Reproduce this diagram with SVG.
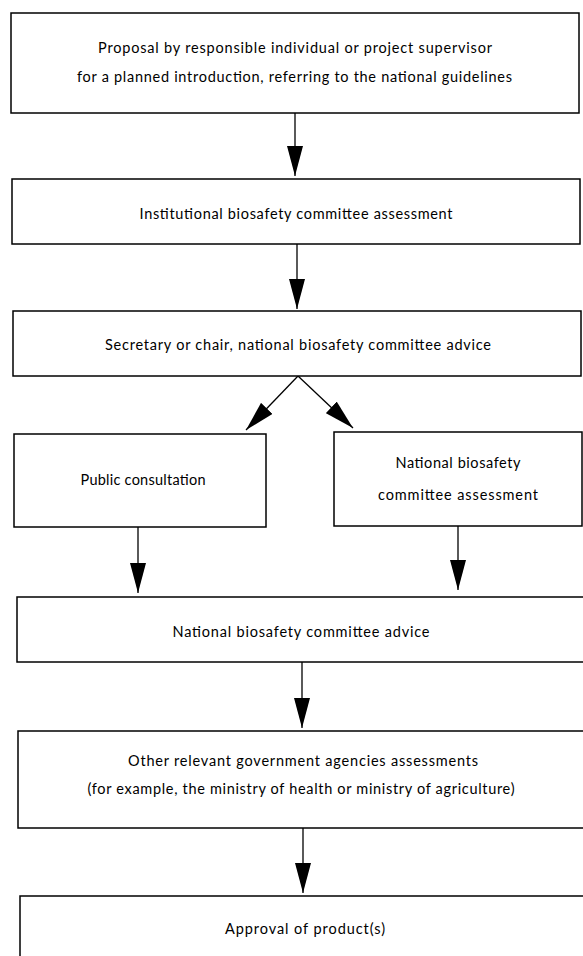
<svg xmlns="http://www.w3.org/2000/svg" width="583" height="956" viewBox="0 0 583 956">
<style>
.box{fill:#fff;stroke:#000;stroke-width:1.5}
.t{font-family:Lato,"Open Sans","Liberation Sans",sans-serif;font-size:14.5px;fill:#000;text-anchor:middle}
.c{stroke:#000;stroke-width:1.3;fill:none}
</style>
<defs>
<marker id="ah" markerUnits="userSpaceOnUse" markerWidth="30" markerHeight="16" refX="30" refY="8" orient="auto" viewBox="0 0 30 16">
<path d="M0,0 L30,8 L0,16 Z" fill="#000"/>
</marker>
</defs>
<rect width="583" height="956" fill="#fff"/>
<g id="connectors">
<line class="c" x1="295" y1="113" x2="295" y2="176" marker-end="url(#ah)"/>
<line class="c" x1="297" y1="244" x2="297" y2="309" marker-end="url(#ah)"/>
<line class="c" x1="298" y1="376" x2="246" y2="430" marker-end="url(#ah)"/>
<line class="c" x1="298" y1="376" x2="353" y2="428" marker-end="url(#ah)"/>
<line class="c" x1="138" y1="527" x2="138" y2="593" marker-end="url(#ah)"/>
<line class="c" x1="458" y1="526" x2="458" y2="590" marker-end="url(#ah)"/>
<line class="c" x1="302" y1="662" x2="302" y2="728" marker-end="url(#ah)"/>
<line class="c" x1="303" y1="828" x2="303" y2="893" marker-end="url(#ah)"/>
</g>
<g id="proposal">
<rect class="box" x="11" y="13" width="568" height="100"/>
<text class="t" x="295" y="53" textLength="394">Proposal by responsible individual or project supervisor</text>
<text class="t" x="294.5" y="82" textLength="435">for a planned introduction, referring to the national guidelines</text>
</g>
<g id="institutional">
<rect class="box" x="12" y="179" width="568" height="65"/>
<text class="t" x="296" y="219" textLength="313">Institutional biosafety committee assessment</text>
</g>
<g id="secretary">
<rect class="box" x="13" y="311" width="568" height="65"/>
<text class="t" x="298" y="350" textLength="386">Secretary or chair, national biosafety committee advice</text>
</g>
<g id="public">
<rect class="box" x="14" y="434" width="252" height="93"/>
<text class="t" x="143" y="485" textLength="125">Public consultation</text>
</g>
<g id="nbc-assessment">
<rect class="box" x="334" y="432" width="248" height="94"/>
<text class="t" x="458" y="468" textLength="125">National biosafety</text>
<text class="t" x="458" y="500" textLength="160">committee assessment</text>
</g>
<g id="nbc-advice">
<rect class="box" x="17" y="597" width="580" height="65"/>
<text class="t" x="301" y="637" textLength="257">National biosafety committee advice</text>
</g>
<g id="other-agencies">
<rect class="box" x="18" y="731" width="580" height="97"/>
<text class="t" x="303" y="766" textLength="350">Other relevant government agencies assessments</text>
<text class="t" x="301" y="794" textLength="427">(for example, the ministry of health or ministry of agriculture)</text>
</g>
<g id="approval">
<rect class="box" x="20" y="896" width="580" height="80"/>
<text class="t" x="305" y="934" textLength="160">Approval of product(s)</text>
</g>
</svg>
